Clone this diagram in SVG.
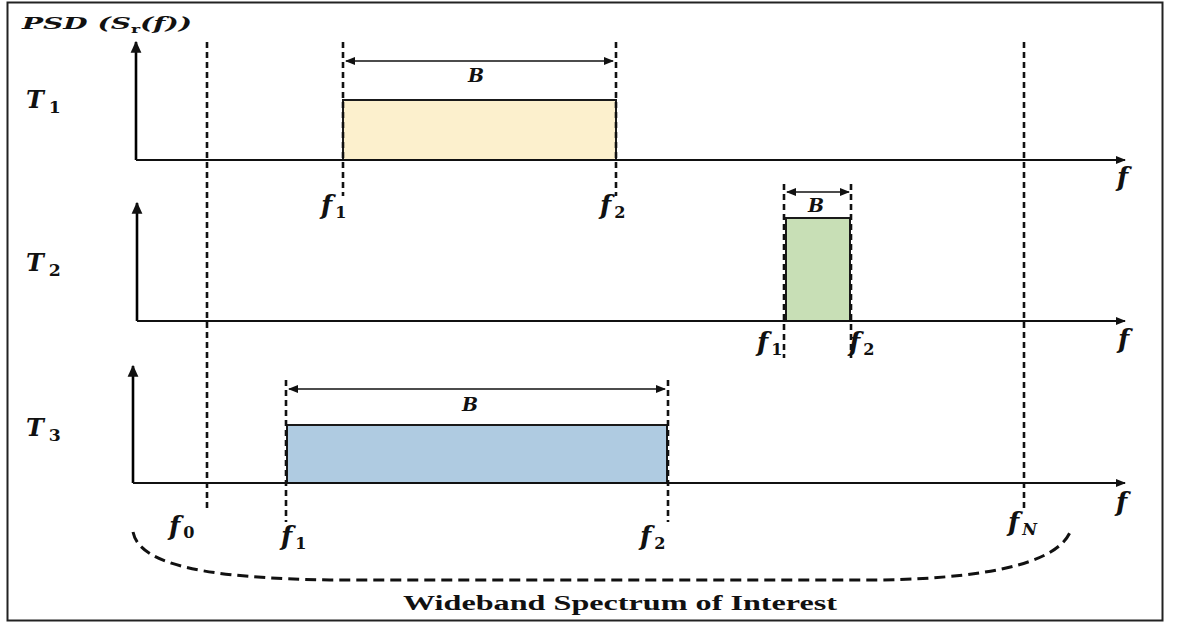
<svg xmlns="http://www.w3.org/2000/svg" width="1177" height="626" viewBox="0 0 1177 626">
<defs>
<marker id="ah" viewBox="0 0 10 10" refX="9" refY="5" markerWidth="12" markerHeight="10" markerUnits="userSpaceOnUse" orient="auto-start-reverse">
<path d="M0,1 L10,5 L0,9 Z" fill="#111"/>
</marker>
<marker id="ahv" viewBox="0 0 10 10" refX="9" refY="5" markerWidth="12" markerHeight="12" markerUnits="userSpaceOnUse" orient="auto">
<path d="M0,0.5 L10,5 L0,9.5 Z" fill="#111"/>
</marker>
<style>
.ax{stroke:#111;stroke-width:1.8;fill:none}
.vax{stroke:#000;stroke-width:2.6;fill:none}
.dash{stroke:#111;stroke-width:2.6;stroke-dasharray:6,4;fill:none}
.arc{stroke:#111;stroke-width:3;stroke-dasharray:11,6;fill:none}
.band{stroke:#1a1a1a;stroke-width:2}
.dim{stroke:#111;stroke-width:1.6;fill:none}
.m{font-family:"DejaVu Serif","Liberation Serif",serif;font-weight:bold;font-style:italic;fill:#111}
.sub{font-style:normal;font-size:0.62em}
.tsub{font-style:normal;font-size:0.72em}
.t{font-family:"Liberation Serif",serif;font-weight:bold;fill:#111}
</style>
</defs>
<rect x="7.5" y="2.5" width="1155" height="618" fill="#fff" stroke="#222" stroke-width="2"/>
<text class="m" x="22" y="29" font-size="17" textLength="170" lengthAdjust="spacingAndGlyphs">PSD (S<tspan class="sub" dy="4">r</tspan><tspan dy="-4">(f))</tspan></text>

<g id="boundaries">
<line class="dash" x1="207" y1="42" x2="207" y2="512"/>
<line class="dash" x1="1024" y1="42" x2="1024" y2="512"/>
<text class="m" x="169" y="535" font-size="26">f<tspan class="sub" dx="3" dy="3">0</tspan></text>
<text class="m" x="1008" y="531" font-size="26">f<tspan class="sub" dx="3" dy="4" style="font-style:italic">N</tspan></text>
</g>

<g id="T1">
<text class="m" x="26" y="108" font-size="24">T<tspan class="tsub" dy="5" dx="5">1</tspan></text>
<rect class="band" x="343" y="100" width="273" height="60" fill="#FCF0CD"/>
<line class="vax" x1="136" y1="160" x2="136" y2="42" marker-end="url(#ahv)"/>
<line class="ax" x1="136" y1="160" x2="1125" y2="160" marker-end="url(#ah)"/>
<line class="dash" x1="343" y1="42" x2="343" y2="196"/>
<line class="dash" x1="616" y1="42" x2="616" y2="196"/>
<line class="dim" x1="346" y1="61" x2="613" y2="61" marker-start="url(#ah)" marker-end="url(#ah)"/>
<text class="m" x="476" y="82" font-size="19" text-anchor="middle">B</text>
<text class="m" x="321" y="214" font-size="26">f<tspan class="sub" dx="3" dy="4">1</tspan></text>
<text class="m" x="600" y="214" font-size="26">f<tspan class="sub" dx="3" dy="4">2</tspan></text>
<text class="m" x="1117" y="186" font-size="26">f</text>
</g>

<g id="T2">
<text class="m" x="26" y="271" font-size="24">T<tspan class="tsub" dy="5" dx="5">2</tspan></text>
<rect class="band" x="786" y="218" width="64" height="103" fill="#C8DFB6"/>
<line class="vax" x1="137" y1="321" x2="137" y2="203" marker-end="url(#ahv)"/>
<line class="ax" x1="137" y1="321" x2="1125" y2="321" marker-end="url(#ah)"/>
<line class="dash" x1="784" y1="184" x2="784" y2="358"/>
<line class="dash" x1="851" y1="184" x2="851" y2="358"/>
<line class="dim" x1="787" y1="192" x2="849" y2="192" marker-start="url(#ah)" marker-end="url(#ah)"/>
<text class="m" x="816" y="212" font-size="19" text-anchor="middle">B</text>
<text class="m" x="757" y="351" font-size="26">f<tspan class="sub" dx="3" dy="4">1</tspan></text>
<text class="m" x="849" y="351" font-size="26">f<tspan class="sub" dx="3" dy="4">2</tspan></text>
<text class="m" x="1118" y="348" font-size="26">f</text>
</g>

<g id="T3">
<text class="m" x="26" y="436" font-size="24">T<tspan class="tsub" dy="5" dx="5">3</tspan></text>
<rect class="band" x="287" y="425" width="380" height="58" fill="#AFCBE1"/>
<line class="vax" x1="133" y1="483" x2="133" y2="366" marker-end="url(#ahv)"/>
<line class="ax" x1="133" y1="483" x2="1125" y2="483" marker-end="url(#ah)"/>
<line class="dash" x1="286" y1="380" x2="286" y2="522"/>
<line class="dash" x1="668" y1="380" x2="668" y2="522"/>
<line class="dim" x1="289" y1="389" x2="665" y2="389" marker-start="url(#ah)" marker-end="url(#ah)"/>
<text class="m" x="470" y="411" font-size="19" text-anchor="middle">B</text>
<text class="m" x="281" y="545" font-size="26">f<tspan class="sub" dx="3" dy="4">1</tspan></text>
<text class="m" x="640" y="545" font-size="26">f<tspan class="sub" dx="3" dy="4">2</tspan></text>
<text class="m" x="1116" y="511" font-size="26">f</text>
</g>

<g id="span">
<path class="arc" d="M133,532 C140,566 210,578 330,580 L880,580 C1000,578 1060,560 1071,530"/>
<text class="t" x="403" y="610" font-size="20" textLength="434" lengthAdjust="spacingAndGlyphs">Wideband Spectrum of Interest</text>
</g>
</svg>
